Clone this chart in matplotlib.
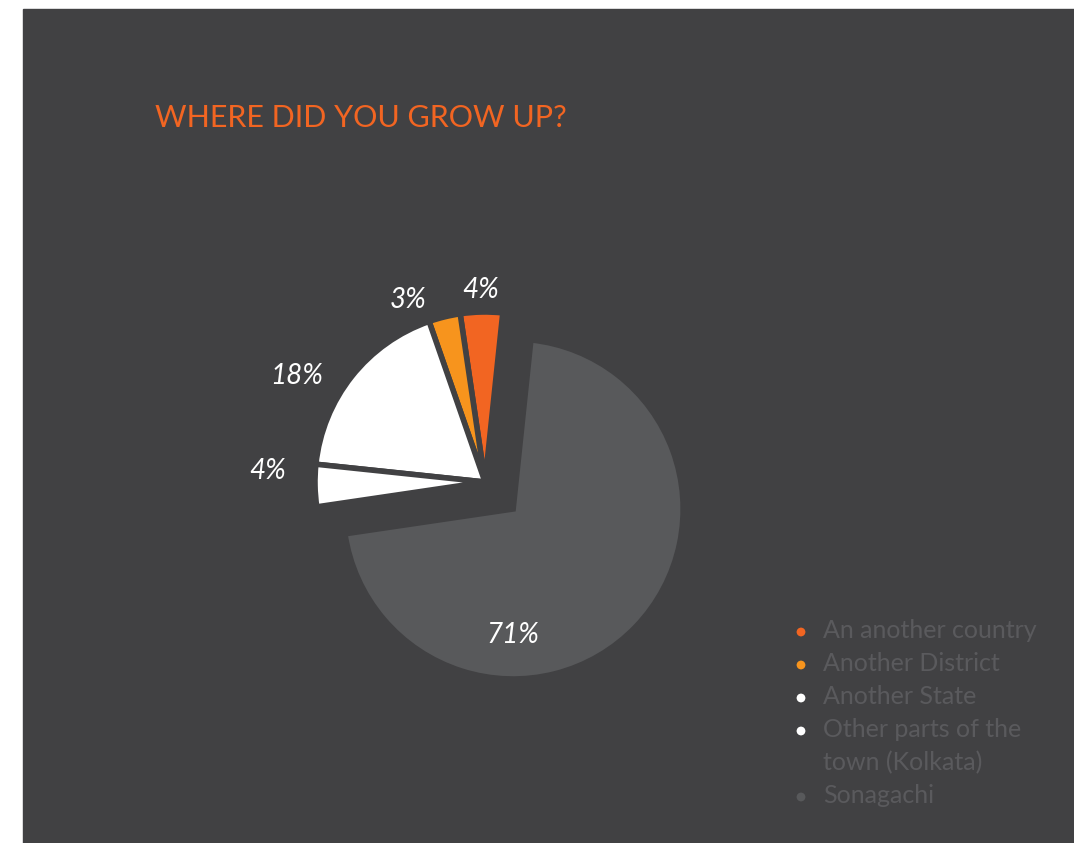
import numpy as np
import matplotlib.pyplot as plt
from matplotlib.patches import Rectangle

# survey answers
places = ["An another country", "Another District", "Another State",
          "Other parts of the\ntown (Kolkata)", "Sonagachi"]
shares = [4, 3, 18, 4, 71]
pct_labels = ["4%", "3%", "18%", "4%", "71%"]
slice_colors = ["#F26522", "#F7941D", "#FFFFFF", "#FFFFFF", "#58595B"]

W, H = 1074, 843
bg = "#414143"
plt.rcParams["font.family"] = ["Lato", "DejaVu Sans"]

fig = plt.figure(figsize=(W / 100, H / 100), dpi=100, facecolor="white")
ax = fig.add_axes([0, 0, 1, 1])
ax.add_patch(Rectangle((23, 0), W - 23, H - 9, color=bg, zorder=0))

R = 170
cx, cy = 485, H - 482
# explode is in data units here (radius is in pixels)
explode = [0, 0, 0, 0, 39]
wedges, _ = ax.pie(shares, colors=slice_colors, radius=R, center=(cx, cy),
                   startangle=84, counterclock=True, explode=explode,
                   wedgeprops=dict(edgecolor=bg, linewidth=4), frame=True)
ax.set_xlim(0, W)
ax.set_ylim(0, H)
ax.set_aspect("equal")
ax.axis("off")

# percent labels: outside for the small slices, inside for the big one
label_dist = [1.13, 1.16, 1.27, 1.28, 0.74]
label_nudge = [0, 9, 9, -4, 0]
for w, txt, d, dn in zip(wedges, pct_labels, label_dist, label_nudge):
    ang = (w.theta1 + w.theta2) / 2 + dn
    if d < 1:
        ang = 270
    a = np.deg2rad(ang)
    x = w.center[0] + d * R * np.cos(a)
    y = w.center[1] + d * R * np.sin(a)
    ax.text(x, y, txt, color="white", fontsize=20, style="italic",
            ha="center", va="center")

ax.text(155, H - 127, "WHERE DID YOU GROW UP?", color="#F26522",
        fontsize=22, va="baseline")

# legend, one baseline per text line
line_gap = 33
y0 = 638
row = 0
for lab, col in zip(places, slice_colors):
    yb = y0 + row * line_gap
    ax.scatter(801, H - yb + 6, s=40, color=col, edgecolors="none")
    for line in lab.split("\n"):
        ax.text(823, H - (y0 + row * line_gap), line, color="#5A5A5D",
                fontsize=18, va="baseline")
        row += 1

fig.savefig("out.png", dpi=100, facecolor=fig.get_facecolor())
